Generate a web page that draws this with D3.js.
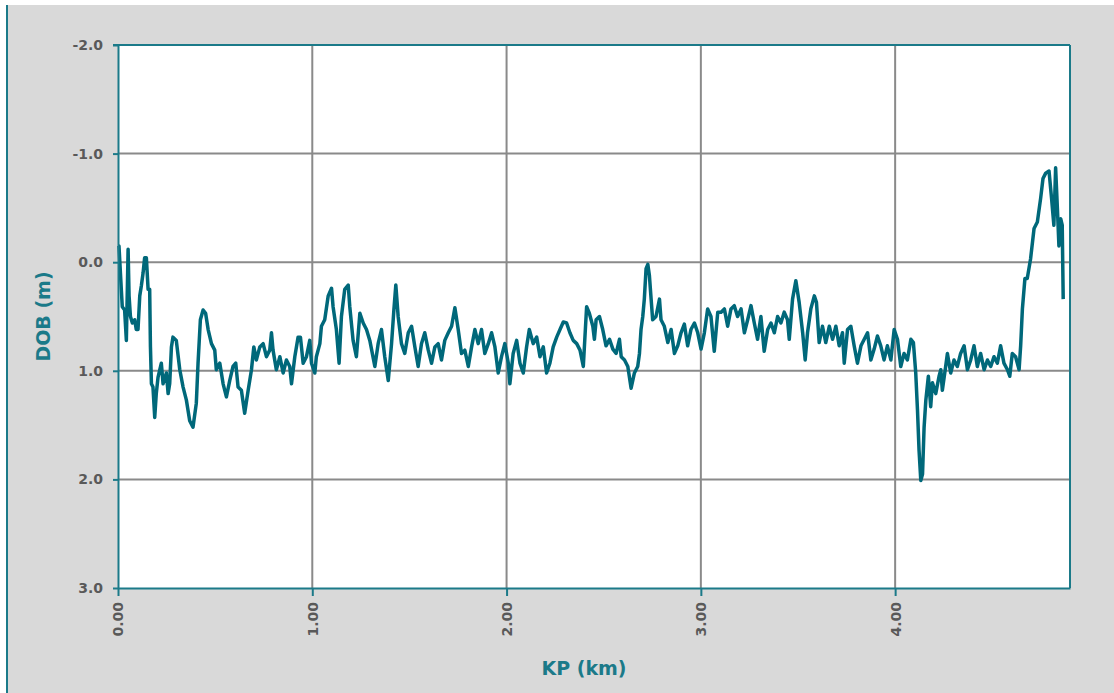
<!DOCTYPE html>
<html>
<head>
<meta charset="utf-8">
<script src="https://cdn.jsdelivr.net/npm/d3@7"></script>
<style>
  html, body { margin: 0; padding: 0; background: #ffffff; }
  svg { display: block; }
</style>
</head>
<body>
<svg id="chart" width="1114" height="693"></svg>
<script>
// ---- data ----
const kp = [
  0.000,0.005,0.017,0.022,0.034,0.043,0.052,0.057,0.064,0.074,0.086,0.094,0.103,0.112,0.120,0.129,0.137,0.146,0.155,0.163,
  0.167,0.172,0.180,0.189,0.197,0.206,0.223,0.232,0.249,0.258,0.266,0.275,0.283,0.300,0.318,0.335,0.352,0.369,0.386,0.403,
  0.412,0.424,0.438,0.451,0.464,0.481,0.498,0.506,0.524,0.541,0.558,0.575,0.592,0.606,0.618,0.635,0.652,0.670,0.687,0.699,
  0.712,0.730,0.747,0.764,0.781,0.790,0.798,0.815,0.833,0.850,0.867,0.884,0.893,0.910,0.927,0.939,0.953,0.970,0.987,0.996,
  1.013,1.021,1.039,1.047,1.064,1.082,1.099,1.107,1.124,1.138,1.150,1.167,1.185,1.193,1.210,1.227,1.245,1.262,1.279,1.296,
  1.322,1.339,1.356,1.373,1.391,1.408,1.420,1.430,1.442,1.459,1.476,1.494,1.511,1.528,1.545,1.562,1.579,1.597,1.614,1.631,
  1.648,1.665,1.682,1.700,1.717,1.734,1.751,1.768,1.785,1.803,1.820,1.837,1.854,1.871,1.888,1.906,1.923,1.940,1.957,1.974,
  1.991,2.009,2.017,2.034,2.052,2.069,2.086,2.103,2.117,2.137,2.155,2.172,2.189,2.206,2.223,2.240,2.258,2.275,2.292,2.309,
  2.326,2.343,2.361,2.378,2.395,2.412,2.426,2.444,2.452,2.461,2.478,2.495,2.512,2.530,2.547,2.564,2.581,2.590,2.607,2.624,
  2.641,2.658,2.675,2.684,2.692,2.701,2.709,2.718,2.727,2.735,2.744,2.752,2.769,2.787,2.795,2.812,2.830,2.847,2.864,2.881,
  2.898,2.915,2.932,2.949,2.967,2.984,3.001,3.018,3.035,3.052,3.069,3.087,3.104,3.121,3.138,3.155,3.172,3.189,3.207,3.224,
  3.241,3.258,3.275,3.292,3.309,3.326,3.344,3.361,3.378,3.395,3.412,3.429,3.446,3.455,3.472,3.489,3.506,3.524,3.537,3.549,
  3.566,3.584,3.595,3.609,3.626,3.643,3.661,3.678,3.695,3.712,3.729,3.738,3.755,3.772,3.789,3.806,3.824,3.841,3.858,3.875,
  3.892,3.909,3.926,3.943,3.960,3.978,3.995,4.012,4.029,4.046,4.063,4.081,4.094,4.106,4.115,4.123,4.132,4.141,4.149,4.158,
  4.171,4.183,4.192,4.209,4.226,4.235,4.243,4.260,4.269,4.286,4.303,4.320,4.337,4.355,4.372,4.389,4.406,4.423,4.440,4.458,
  4.475,4.492,4.509,4.526,4.543,4.560,4.578,4.590,4.603,4.620,4.638,4.646,4.655,4.668,4.680,4.697,4.715,4.732,4.749,4.761,
  4.775,4.792,4.805,4.817,4.826,4.835,4.843,4.852,4.860,4.865
];
const dob = [
  -0.15,-0.15,0.25,0.41,0.44,0.72,-0.12,0.31,0.50,0.56,0.53,0.62,0.62,0.31,0.22,0.10,-0.04,-0.04,0.25,0.25,
  0.78,1.12,1.15,1.43,1.21,1.06,0.93,1.12,1.02,1.21,1.12,0.78,0.69,0.72,0.99,1.15,1.27,1.46,1.52,1.30,
  0.93,0.53,0.44,0.47,0.62,0.75,0.81,0.99,0.93,1.12,1.24,1.09,0.96,0.93,1.15,1.18,1.39,1.18,0.99,0.78,
  0.90,0.78,0.75,0.87,0.81,0.65,0.81,0.99,0.87,1.02,0.90,0.96,1.12,0.87,0.69,0.69,0.93,0.87,0.72,0.93,
  1.02,0.87,0.75,0.59,0.53,0.31,0.24,0.41,0.62,0.93,0.50,0.25,0.21,0.41,0.72,0.87,0.47,0.56,0.62,0.72,
  0.96,0.75,0.62,0.87,1.09,0.75,0.44,0.21,0.50,0.75,0.84,0.65,0.59,0.78,0.96,0.75,0.65,0.81,0.93,0.78,
  0.75,0.90,0.72,0.65,0.59,0.42,0.62,0.84,0.81,0.96,0.78,0.62,0.75,0.62,0.84,0.75,0.65,0.78,1.02,0.87,
  0.75,0.93,1.12,0.84,0.72,0.93,1.02,0.78,0.62,0.75,0.69,0.87,0.78,1.02,0.93,0.78,0.69,0.62,0.55,0.56,
  0.65,0.72,0.75,0.81,0.96,0.41,0.47,0.59,0.71,0.53,0.50,0.62,0.77,0.71,0.80,0.84,0.71,0.87,0.90,0.96,
  1.16,1.02,0.96,0.84,0.62,0.50,0.34,0.06,0.02,0.12,0.34,0.53,0.50,0.34,0.53,0.59,0.74,0.62,0.84,0.77,
  0.65,0.57,0.77,0.62,0.56,0.65,0.80,0.65,0.43,0.50,0.82,0.46,0.46,0.43,0.59,0.43,0.40,0.50,0.43,0.65,
  0.53,0.40,0.56,0.71,0.50,0.82,0.62,0.56,0.65,0.50,0.56,0.46,0.53,0.71,0.34,0.17,0.37,0.65,0.90,0.65,
  0.43,0.31,0.37,0.74,0.59,0.74,0.59,0.71,0.59,0.77,0.65,0.93,0.62,0.59,0.77,0.93,0.77,0.71,0.65,0.90,
  0.80,0.68,0.77,0.90,0.77,0.90,0.62,0.71,0.96,0.84,0.90,0.71,0.74,1.02,1.36,1.73,2.01,1.95,1.52,1.27,
  1.05,1.33,1.11,1.21,1.05,0.99,1.18,0.96,0.84,1.02,0.90,0.96,0.84,0.77,0.99,0.90,0.77,0.96,0.84,0.99,
  0.90,0.96,0.87,0.93,0.77,0.93,0.99,1.05,0.84,0.87,0.99,0.77,0.43,0.15,0.15,-0.03,-0.31,-0.37,-0.59,-0.77,
  -0.82,-0.84,-0.59,-0.34,-0.87,-0.50,-0.15,-0.40,-0.34,0.34
];
const yTicks = [-2, -1, 0, 1, 2, 3];
const xTicks = [0, 1, 2, 3, 4];
const xTitle = "KP (km)";
const yTitle = "DOB (m)";

// ---- layout ----
const W = 1114, H = 693;
const L = 118, T = 45, R = 1070, B = 588;
const teal = "#1b7a89";
const lineColor = "#00687a";
const gridColor = "#8a8a8a";
const tickText = "#595959";

const svg = d3.select("#chart");

// container background
svg.append("rect").attr("x", 6).attr("y", 5).attr("width", W - 6).attr("height", H - 5)
  .attr("fill", "#d9d9d9");
svg.append("line").attr("x1", 7).attr("x2", 7).attr("y1", 5).attr("y2", H)
  .attr("stroke", teal).attr("stroke-width", 2);

// plot area
svg.append("rect").attr("x", L).attr("y", T).attr("width", R - L).attr("height", B - T)
  .attr("fill", "#ffffff");

const x = d3.scaleLinear().domain([0, 4.9]).range([L, R]);
const y = d3.scaleLinear().domain([-2, 3]).range([T, B]);

// gridlines
const g = svg.append("g");
g.selectAll("line.hg").data(yTicks.slice(1, -1)).join("line")
  .attr("x1", L).attr("x2", R)
  .attr("y1", d => y(d)).attr("y2", d => y(d))
  .attr("stroke", gridColor).attr("stroke-width", 2);
g.selectAll("line.vg").data(xTicks.slice(1)).join("line")
  .attr("y1", T).attr("y2", B)
  .attr("x1", d => x(d)).attr("x2", d => x(d))
  .attr("stroke", gridColor).attr("stroke-width", 2);

// data line
const pts = kp.map((k, i) => [k, dob[i]]);
svg.append("path").datum(pts)
  .attr("fill", "none")
  .attr("stroke", lineColor)
  .attr("stroke-width", 3.5)
  .attr("stroke-linejoin", "round")
  .attr("d", d3.line().x(d => x(d[0])).y(d => y(d[1])));

// border (top, right)
svg.append("line").attr("x1", L - 5).attr("x2", R).attr("y1", T).attr("y2", T)
  .attr("stroke", teal).attr("stroke-width", 2);
svg.append("line").attr("x1", R).attr("x2", R).attr("y1", T).attr("y2", B)
  .attr("stroke", teal).attr("stroke-width", 2);

const fmtY = d => d3.format(".1f")(d).replace("\u2212", "-");
const fmtX = d => d3.format(".2f")(d).replace("\u2212", "-");

// y axis
const yAxis = svg.append("g").attr("transform", `translate(${L},0)`)
  .call(d3.axisLeft(y).tickValues(yTicks).tickSize(5).tickSizeOuter(0).tickPadding(10)
    .tickFormat(fmtY));
yAxis.select(".domain").attr("stroke", teal).attr("stroke-width", 2);
yAxis.selectAll(".tick line").attr("stroke", teal).attr("stroke-width", 2);
yAxis.selectAll(".tick text")
  .attr("fill", tickText)
  .style("font-family", "'DejaVu Sans', sans-serif")
  .style("font-weight", "bold")
  .style("font-size", "14px");

// x axis
const xAxis = svg.append("g").attr("transform", `translate(0,${B})`)
  .call(d3.axisBottom(x).tickValues(xTicks).tickSize(8).tickSizeOuter(0).tickPadding(0)
    .tickFormat(fmtX));
xAxis.select(".domain").attr("stroke", teal).attr("stroke-width", 2);
xAxis.selectAll(".tick line").attr("stroke", teal).attr("stroke-width", 2);
xAxis.selectAll(".tick text")
  .attr("fill", tickText)
  .attr("transform", "rotate(-90)")
  .attr("text-anchor", "end")
  .attr("x", -14)
  .attr("y", 0)
  .attr("dy", "0.35em")
  .style("font-family", "'DejaVu Sans', sans-serif")
  .style("font-weight", "bold")
  .style("font-size", "14px");

// axis titles
svg.append("text")
  .attr("x", (L + R) / 2 - 10).attr("y", 675)
  .attr("text-anchor", "middle")
  .attr("fill", teal)
  .style("font-family", "'DejaVu Sans', sans-serif")
  .style("font-weight", "bold")
  .style("font-size", "19px")
  .text(xTitle);
svg.append("text")
  .attr("transform", `translate(50,${(T + B) / 2}) rotate(-90)`)
  .attr("text-anchor", "middle")
  .attr("fill", teal)
  .style("font-family", "'DejaVu Sans', sans-serif")
  .style("font-weight", "bold")
  .style("font-size", "19px")
  .text(yTitle);
</script>
</body>
</html>
